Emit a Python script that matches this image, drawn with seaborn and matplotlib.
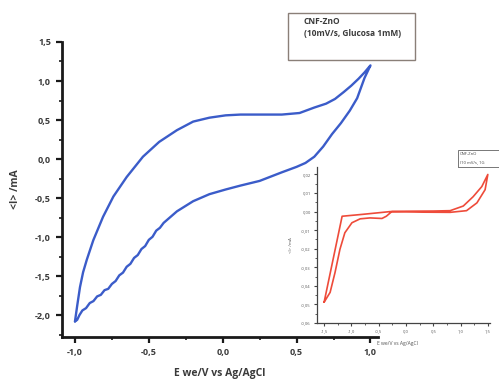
import numpy as np
import pandas as pd
import matplotlib
matplotlib.use("Agg")
import matplotlib.pyplot as plt
from matplotlib.ticker import MultipleLocator, FuncFormatter
import seaborn as sns

# Main CV (blue): forward sweep then reverse sweep
fwd_x = [-1.00, -0.985, -0.966, -0.945, -0.92, -0.876, -0.81, -0.74, -0.65, -0.54, -0.43, -0.31, -0.20,
         -0.09, 0.02, 0.12, 0.25, 0.40, 0.52, 0.62, 0.70, 0.76, 0.82, 0.87, 0.92, 0.96, 1.00]
fwd_y = [-2.08, -1.88, -1.64, -1.45, -1.29, -1.04, -0.74, -0.48, -0.23, 0.03, 0.22, 0.37, 0.48,
         0.53, 0.56, 0.57, 0.57, 0.57, 0.59, 0.66, 0.71, 0.77, 0.86, 0.94, 1.03, 1.11, 1.20]
rev_x = [1.00, 0.96, 0.91, 0.86, 0.80, 0.74, 0.68, 0.62, 0.56, 0.50, 0.40, 0.25, 0.12, 0.02, -0.09, -0.20,
         -0.31, -0.40, -0.425, -0.45, -0.475, -0.50, -0.525, -0.55, -0.575, -0.60, -0.625, -0.65,
         -0.675, -0.70, -0.725, -0.75, -0.775, -0.80, -0.825, -0.85, -0.875, -0.90, -0.925, -0.95,
         -0.97, -0.985, -1.00]
rev_y = [1.20, 1.04, 0.78, 0.62, 0.46, 0.32, 0.16, 0.03, -0.05, -0.10, -0.17, -0.28, -0.34, -0.39, -0.45, -0.54,
         -0.67, -0.818, -0.881, -0.917, -0.996, -1.035, -1.115, -1.153, -1.230, -1.267, -1.343, -1.380,
         -1.455, -1.490, -1.563, -1.600, -1.663, -1.680, -1.740, -1.760, -1.820, -1.845, -1.910, -1.940,
         -2.00, -2.06, -2.08]

# Inset CV (red)
ins_x = [-1.50, -1.17, -0.80, -0.29, 0.00, 0.50, 0.81, 1.05, 1.23, 1.39, 1.50,
         1.45, 1.30, 1.11, 0.81, 0.30, -0.26, -0.36, -0.44, -0.66, -0.84, -0.99, -1.12, -1.21, -1.30, -1.39, -1.50]
ins_y = [-0.0488, -0.0025, -0.0015, 0.0000, 0.0002, 0.0003, 0.0005, 0.0030, 0.0080, 0.0135, 0.0200,
         0.0118, 0.0047, 0.0005, -0.0004, -0.0003, 0.0000, -0.0025, -0.0037, -0.0034, -0.0039, -0.0060, -0.0114, -0.0203, -0.0328, -0.0435, -0.0488]

main_yticks = [1.5, 1.0, 0.5, 0.0, -0.5, -1.0, -1.5, -2.0]
main_xticks = [-1.0, -0.5, 0.0, 0.5, 1.0]
ins_yticks = [0.02, 0.01, 0.00, -0.01, -0.02, -0.03, -0.04, -0.05, -0.06]
ins_xticks = [-1.5, -1.0, -0.5, 0.0, 0.5, 1.0, 1.5]

legend_lines = ["CNF-ZnO", "(10mV/s, Glucosa 1mM)"]
inset_legend_lines = ["CNF-ZnO", "(10 mV/s, 1G"]
xlabel = "E we/V vs Ag/AgCl"
ylabel = "<I> /mA"

sns.set_style("ticks")
plt.rcParams['font.family'] = ['Open Sans', 'DejaVu Sans']
TXT = '#3a3a3a'

fig = plt.figure(figsize=(4.99, 3.81), dpi=100)
ax = fig.add_axes([0.1242, 0.1155, 0.633, 0.7743])

df_main = pd.DataFrame({"E": fwd_x + rev_x, "I": fwd_y + rev_y})
sns.lineplot(data=df_main, x="E", y="I", sort=False, estimator=None, ax=ax,
             color='#3b5cc9', lw=1.7)

ax.set_xlim(-1.088, 1.05)
ax.set_ylim(-2.28, 1.5)
ax.set_xticks(main_xticks)
ax.set_yticks(main_yticks)
ax.xaxis.set_minor_locator(MultipleLocator(0.25))
ax.yaxis.set_minor_locator(MultipleLocator(0.25))
fmt1 = FuncFormatter(lambda v, p: f"{v:.1f}".replace('.', ',').replace('-0,0', '0,0'))
ax.xaxis.set_major_formatter(fmt1)
ax.yaxis.set_major_formatter(fmt1)
for s in ['top', 'right']:
    ax.spines[s].set_visible(False)
for s in ['left', 'bottom']:
    ax.spines[s].set_linewidth(2.0)
    ax.spines[s].set_color('#1a1a1a')
ax.tick_params(which='major', direction='out', length=4, width=1.6, color='#1a1a1a',
               labelsize=6.5, labelcolor=TXT, pad=4)
ax.tick_params(which='minor', direction='out', length=2.5, width=1.2, color='#1a1a1a')
for lab in ax.get_xticklabels() + ax.get_yticklabels():
    lab.set_fontweight('bold')
ax.set_xlabel(xlabel, fontsize=7.5, fontweight='bold', color=TXT, labelpad=8)
ax.set_ylabel(ylabel, fontsize=7.5, fontweight='bold', color=TXT, labelpad=10)
ax.patch.set_alpha(0)

# Legend-like box (main)
fig.patches.append(plt.Rectangle((288/499, 1-60/381), 127/499, 47/381, transform=fig.transFigure,
                                 fill=False, ec='#8a7f78', lw=1.0))
fig.text(304/499, 1-21/381, legend_lines[0], fontsize=6, fontweight='bold', color=TXT, va='center')
fig.text(304/499, 1-34/381, legend_lines[1], fontsize=6, fontweight='bold', color=TXT, va='center')

# Inset
ax2 = fig.add_axes([0.6353, 0.1522, 0.3467, 0.4094])
df_ins = pd.DataFrame({"E": ins_x, "I": ins_y})
sns.lineplot(data=df_ins, x="E", y="I", sort=False, estimator=None, ax=ax2,
             color='#ee4b3a', lw=1.2)
ax2.set_xlim(-1.63, 1.54)
ax2.set_ylim(-0.06, 0.024)
ax2.set_xticks(ins_xticks)
ax2.set_yticks(ins_yticks)
ax2.xaxis.set_minor_locator(MultipleLocator(0.25))
ax2.yaxis.set_minor_locator(MultipleLocator(0.005))
ax2.xaxis.set_major_formatter(FuncFormatter(lambda v, p: f"{v:.1f}".replace('.', ',').replace('-0,0', '0,0')))
ax2.yaxis.set_major_formatter(FuncFormatter(lambda v, p: f"{v:.2f}".replace('.', ',').replace('-0,00', '0,00')))
for s in ['top', 'right']:
    ax2.spines[s].set_visible(False)
for s in ['left', 'bottom']:
    ax2.spines[s].set_linewidth(0.9)
    ax2.spines[s].set_color('#444444')
ax2.tick_params(which='major', direction='out', length=2.5, width=0.8, color='#444444',
                labelsize=3, labelcolor='#555555', pad=2)
ax2.tick_params(which='minor', direction='out', length=1.5, width=0.6, color='#444444')
ax2.set_xlabel("")
ax2.set_ylabel(ylabel, fontsize=3.2, color='#555555', labelpad=6)
ax2.patch.set_alpha(0)
fig.text(377/499, 1-343/381, xlabel, fontsize=3.6, color='#555555', va='center')

fig.patches.append(plt.Rectangle((458/499, 1-167/381), 60/499, 17/381, transform=fig.transFigure,
                                 fill=False, ec='#777777', lw=0.7))
fig.text(460/499, 1-154/381, inset_legend_lines[0], fontsize=3, color='#444444', va='center')
fig.text(460/499, 1-162/381, inset_legend_lines[1], fontsize=3, color='#444444', va='center')

fig.savefig("out.png", dpi=100)
